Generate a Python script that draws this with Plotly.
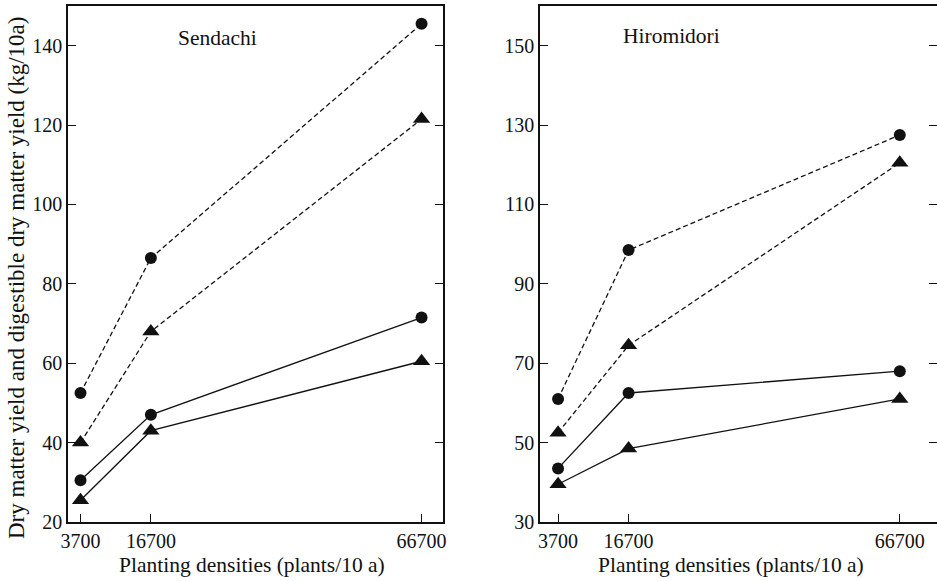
import plotly.graph_objects as go

# ---- data ----
densities = [3700, 16700, 66700]
density_labels = ["3700", "16700", "66700"]

sendachi_dm_circle = [52.5, 86.5, 145.5]
sendachi_dm_triangle = [40, 68, 121.5]
sendachi_ddm_circle = [30.5, 47, 71.5]
sendachi_ddm_triangle = [25.5, 43, 60.5]

hiromidori_dm_circle = [61, 98.5, 127.5]
hiromidori_dm_triangle = [52.5, 74.5, 120.5]
hiromidori_ddm_circle = [43.5, 62.5, 68]
hiromidori_ddm_triangle = [39.5, 48.5, 61]

left_yticks = [20, 40, 60, 80, 100, 120, 140]
right_yticks = [30, 50, 70, 90, 110, 130, 150]

FONT = "Liberation Serif"
BLACK = "#111111"

fig = go.Figure()

def add_series(y, symbol, dash, xa, ya, name):
    size = 12 if symbol == "circle" else 15
    fig.add_trace(go.Scatter(
        x=densities, y=y, mode="lines+markers", name=name,
        xaxis=xa, yaxis=ya,
        line=dict(color=BLACK, width=1.3, dash=dash),
        marker=dict(symbol=symbol, size=size, color=BLACK),
        showlegend=False,
    ))

DASH = "5px,3px"
add_series(sendachi_dm_circle, "circle", DASH, "x", "y", "Sendachi DM ●")
add_series(sendachi_dm_triangle, "triangle-up", DASH, "x", "y", "Sendachi DM ▲")
add_series(sendachi_ddm_circle, "circle", "solid", "x", "y", "Sendachi DDM ●")
add_series(sendachi_ddm_triangle, "triangle-up", "solid", "x", "y", "Sendachi DDM ▲")

add_series(hiromidori_dm_circle, "circle", DASH, "x2", "y2", "Hiromidori DM ●")
add_series(hiromidori_dm_triangle, "triangle-up", DASH, "x2", "y2", "Hiromidori DM ▲")
add_series(hiromidori_ddm_circle, "circle", "solid", "x2", "y2", "Hiromidori DDM ●")
add_series(hiromidori_ddm_triangle, "triangle-up", "solid", "x2", "y2", "Hiromidori DDM ▲")

W, H = 937, 581
ydom = [59 / H, 575 / H]

common_x = dict(
    tickvals=densities, ticktext=density_labels, ticks="inside", ticklen=8,
    tickwidth=1.2, tickcolor=BLACK, showline=True, linecolor=BLACK,
    linewidth=1.6, mirror=True, showgrid=False, zeroline=False,
    automargin=False,
    tickfont=dict(family=FONT, size=20, color=BLACK),
)
common_y = dict(
    ticks="inside", ticklen=8, tickwidth=1.2, tickcolor=BLACK,
    showline=True, linecolor=BLACK, linewidth=1.6, mirror="ticks",
    showgrid=False, zeroline=False, automargin=False,
    tickfont=dict(family=FONT, size=20, color=BLACK),
)

def label(text, px, py, size, angle=0):
    return dict(text=text, x=px / W, y=1 - py / H, xref="paper", yref="paper",
                xanchor="center", yanchor="middle", textangle=angle,
                showarrow=False, font=dict(family=FONT, size=size, color=BLACK))

fig.update_layout(
    width=W, height=H,
    margin=dict(l=0, r=0, t=0, b=0, autoexpand=False),
    paper_bgcolor="white", plot_bgcolor="white",
    font=dict(family=FONT, color=BLACK),
    xaxis=dict(domain=[68 / W, 443 / W], range=[1390, 70660], anchor="y", **common_x),
    yaxis=dict(domain=ydom, range=[20, 150], tickvals=left_yticks, anchor="x", **common_y),
    xaxis2=dict(domain=[540 / W, 1.0], range=[370, 73560], anchor="y2", **common_x),
    yaxis2=dict(domain=ydom, range=[30, 160], tickvals=right_yticks, anchor="x2", **common_y),
    annotations=[
        label("Sendachi", 217, 38, 21.5),
        label("Hiromidori", 671, 36, 21.5),
        label("Planting densities (plants/10 a)", 252, 565, 21.5),
        label("Planting densities (plants/10 a)", 731, 565, 21.5),
        label("Dry matter yield and digestible dry matter yield (kg/10a)",
              16, 278, 23, angle=-90),
    ],
)

fig.write_html("out.html")
